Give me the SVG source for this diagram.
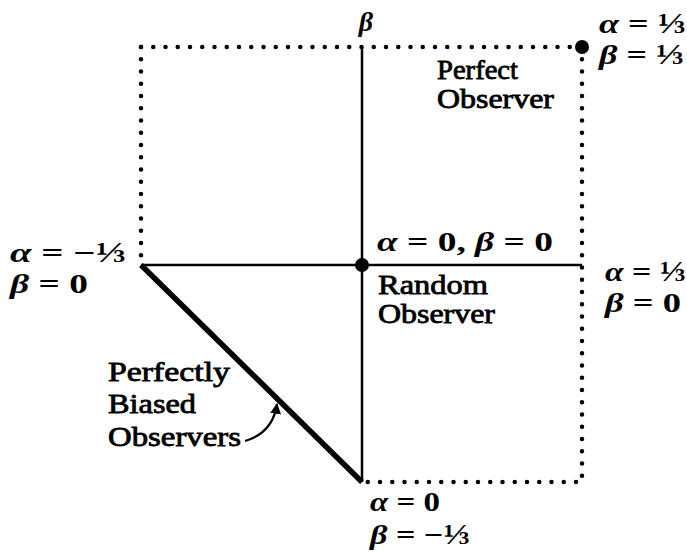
<svg xmlns="http://www.w3.org/2000/svg" width="687" height="553" viewBox="0 0 687 553">
<style>
.t{font-family:"Liberation Serif","Times New Roman",serif;font-size:27px;fill:#000;stroke:#000;stroke-width:0.8}
.m{font-family:"Liberation Serif","DejaVu Serif",serif;font-size:28px;font-weight:bold;fill:#000}
.g{font-style:italic}
.f{font-size:29px}
.dot{fill:none;stroke:#000;stroke-width:4.5;stroke-linecap:round;stroke-dasharray:0 12.25}
.ln{fill:none;stroke:#000;stroke-width:2.5}
</style>
<defs>
<marker id="ah" viewBox="0 0 10 10" refX="9" refY="5" markerWidth="5" markerHeight="5" orient="auto" markerUnits="strokeWidth">
<path d="M0,0 L10,5 L0,10 Z" fill="#000"/>
</marker>
</defs>
<g id="connectors">
<path class="dot" d="M141,47 H582 V482 H362"/>
<path class="dot" d="M141,47 V265"/>
<path class="ln" d="M362,47 V482"/>
<path class="ln" d="M141,265 H582"/>
<path d="M141,265 L362,482" fill="none" stroke="#000" stroke-width="5.5"/>
<path d="M245,441 C262,436 274,425 277,404" fill="none" stroke="#000" stroke-width="2.2" marker-end="url(#ah)"/>
</g>
<g id="origin"><circle cx="362" cy="265" r="7" fill="#000"/>
<text class="m" x="377" y="251" textLength="176" lengthAdjust="spacingAndGlyphs"><tspan class="g">α</tspan> = 0, <tspan class="g">β</tspan> = 0</text>
<text class="t" x="378" y="294" textLength="110" lengthAdjust="spacingAndGlyphs">Random</text>
<text class="t" x="378" y="323" textLength="117" lengthAdjust="spacingAndGlyphs">Observer</text>
</g>
<g id="perfect"><circle cx="582" cy="47" r="7" fill="#000"/>
<text class="m" x="599" y="33" textLength="87" lengthAdjust="spacingAndGlyphs"><tspan class="g">α</tspan> = <tspan class="f">⅓</tspan></text>
<text class="m" x="599" y="64" textLength="85" lengthAdjust="spacingAndGlyphs"><tspan class="g">β</tspan> = <tspan class="f">⅓</tspan></text>
<text class="t" x="437" y="79" textLength="81" lengthAdjust="spacingAndGlyphs">Perfect</text>
<text class="t" x="437" y="108" textLength="117" lengthAdjust="spacingAndGlyphs">Observer</text>
</g>
<g id="beta-axis"><text class="m g" x="366" y="31" text-anchor="middle">β</text></g>
<g id="left"><text class="m" x="10" y="262" textLength="116" lengthAdjust="spacingAndGlyphs"><tspan class="g">α</tspan> = −<tspan class="f">⅓</tspan></text>
<text class="m" x="10" y="293" textLength="78" lengthAdjust="spacingAndGlyphs"><tspan class="g">β</tspan> = 0</text></g>
<g id="right"><text class="m" x="605" y="281" textLength="81" lengthAdjust="spacingAndGlyphs"><tspan class="g">α</tspan> = <tspan class="f">⅓</tspan></text>
<text class="m" x="605" y="312" textLength="76" lengthAdjust="spacingAndGlyphs"><tspan class="g">β</tspan> = 0</text></g>
<g id="bottom"><text class="m" x="370" y="511" textLength="70" lengthAdjust="spacingAndGlyphs"><tspan class="g">α</tspan> = 0</text>
<text class="m" x="370" y="544" textLength="100" lengthAdjust="spacingAndGlyphs"><tspan class="g">β</tspan> = −<tspan class="f">⅓</tspan></text></g>
<g id="biased">
<text class="t" x="108" y="381" textLength="122" lengthAdjust="spacingAndGlyphs">Perfectly</text>
<text class="t" x="108" y="413" textLength="88" lengthAdjust="spacingAndGlyphs">Biased</text>
<text class="t" x="108" y="446" textLength="133" lengthAdjust="spacingAndGlyphs">Observers</text>
</g>
</svg>
